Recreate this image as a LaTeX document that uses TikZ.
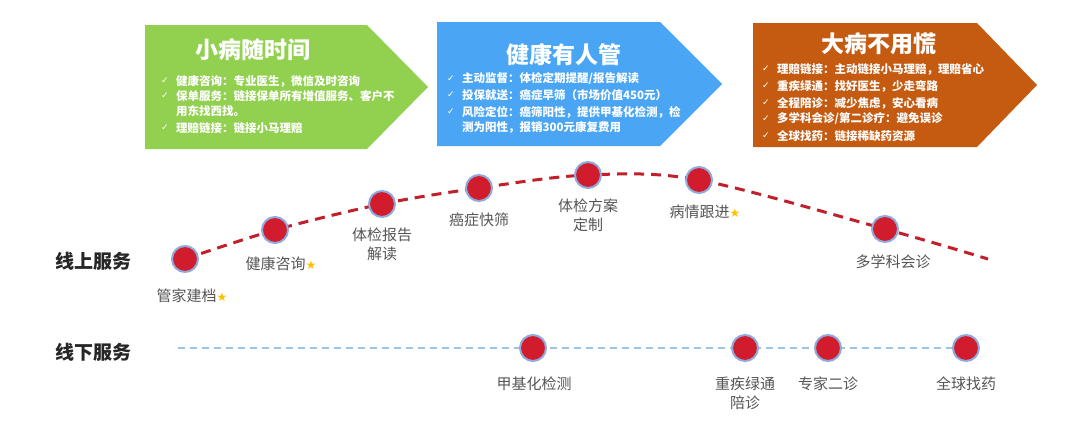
\documentclass[tikz,border=0pt]{standalone}
\usepackage{fontspec}
\newfontfamily\cjk{Noto Sans CJK SC}
\newfontfamily\sym{DejaVu Sans}
\usetikzlibrary{backgrounds}
\definecolor{grn}{HTML}{92D050}
\definecolor{blu}{HTML}{4AA6F4}
\definecolor{org}{HTML}{C55A11}
\definecolor{dotred}{HTML}{D01C2C}
\definecolor{dotedge}{HTML}{8FAADC}
\definecolor{curvered}{HTML}{C0202B}
\definecolor{lineblue}{HTML}{9DC3E6}
\definecolor{labgray}{HTML}{555555}
\definecolor{stargold}{HTML}{FFC000}
\newcommand{\gstar}{{\sym\fontsize{12}{12}\selectfont\textcolor{stargold}{★}}}
\begin{document}
\begin{tikzpicture}[x=1pt,y=-1pt,
  boxtitle/.style={text=white,inner sep=0pt,font=\cjk\bfseries\fontsize{23}{24}\selectfont},
  bline/.style={anchor=west,text=white,inner sep=0pt,font=\cjk\bfseries\fontsize{11.5}{12}\selectfont},
  chk/.style={text=white,inner sep=0pt,font=\sym\fontsize{9}{9}\selectfont},
  dot/.style={circle,minimum size=26pt,inner sep=0pt,fill=dotred,draw=dotedge,line width=2pt},
  lbl/.style={text=labgray,inner sep=0pt,align=center,font=\cjk\fontsize{15}{19}\selectfont},
  rowhead/.style={text=black!85,inner sep=0pt,font=\cjk\bfseries\fontsize{19}{20}\selectfont},
  upcurve/.style={draw=curvered,line width=3pt,dash pattern=on 10pt off 7pt},
  downline/.style={draw=lineblue,line width=2.5pt,dash pattern=on 7pt off 5pt}]
\useasboundingbox (0,0) rectangle (1080,439);
% arrow boxes
\fill[grn] (145,25) -- (367,25) -- (428,87) -- (367,149) -- (145,149) -- cycle;
\fill[blu] (437,22) -- (660,22) -- (722,84) -- (660,146) -- (437,146) -- cycle;
\fill[org] (753,23) -- (977,23) -- (1037,85) -- (977,147) -- (753,147) -- cycle;
% green box text
\node[boxtitle] (gt) at (253,50) {小病随时间};
\node[chk] (gc1) at (165,81) {✓};
\node[bline] (g1) at (176,81) {健康咨询：专业医生，微信及时咨询};
\node[chk] (gc2) at (165,96) {✓};
\node[bline] (g2) at (176,96) {保单服务：链接保单所有增值服务、客户不};
\node[bline] (g2b) at (176,111) {用东找西找。};
\node[chk] (gc3) at (165,128) {✓};
\node[bline] (g3) at (176,128) {理赔链接：链接小马理赔};
% blue box text
\node[boxtitle] (bt) at (564,55) {健康有人管};
\node[chk] (bc1) at (451,79) {✓};
\node[bline] (b1) at (462,79) {主动监督：体检定期提醒/报告解读};
\node[chk] (bc2) at (451,95) {✓};
\node[bline] (b2) at (462,95) {投保就送：癌症早筛（市场价值450元）};
\node[chk] (bc3) at (451,112) {✓};
\node[bline] (b3) at (462,112) {风险定位：癌筛阳性，提供甲基化检测，检};
\node[bline] (b3b) at (462,127) {测为阳性，报销300元康复费用};
% orange box text
\node[boxtitle] (ot) at (879,44) {大病不用慌};
\node[chk] (oc1) at (766,69) {✓};
\node[bline] (o1) at (777,69) {理赔链接：主动链接小马理赔，理赔省心};
\node[chk] (oc2) at (766,86) {✓};
\node[bline] (o2) at (777,86) {重疾绿通：找好医生，少走弯路};
\node[chk] (oc3) at (766,103) {✓};
\node[bline] (o3) at (777,103) {全程陪诊：减少焦虑，安心看病};
\node[chk] (oc4) at (766,119) {✓};
\node[bline] (o4) at (777,119) {多学科会诊/第二诊疗：避免误诊};
\node[chk] (oc5) at (766,136) {✓};
\node[bline] (o5) at (777,136) {全球找药：链接稀缺药资源};
% row headings
\node[rowhead] (on) at (94,261) {线上服务};
\node[rowhead] (off) at (94,352) {线下服务};
% upper dots
\node[dot] (u1) at (185,259) {};
\node[dot] (u2) at (275,230) {};
\node[dot] (u3) at (382,204) {};
\node[dot] (u4) at (479,188) {};
\node[dot] (u5) at (588,175) {};
\node[dot] (u6) at (699,180) {};
\node[dot] (u7) at (885,229) {};
\coordinate (uend) at (988,259);
% lower dots
\coordinate (lstart) at (178,348);
\node[dot] (l1) at (533,348) {};
\node[dot] (l2) at (745,348) {};
\node[dot] (l3) at (828,348) {};
\node[dot] (l4) at (966,348) {};
\begin{scope}[on background layer]
\fill[white] (0,0) rectangle (1080,439);
\draw[upcurve] plot[smooth,tension=0.55] coordinates {(u1.center) (u2.center) (u3.center) (u4.center) (u5.center) (u6.center) (u7.center) (uend)};
\draw[downline] (lstart) -- (l1.center) -- (l2.center) -- (l3.center) -- (l4.center);
\end{scope}
% upper labels
\node[lbl] (ul1) at (192,296) {管家建档\gstar};
\node[lbl] (ul2) at (281,264) {健康咨询\gstar};
\node[lbl] (ul3) at (382,244) {体检报告\\解读};
\node[lbl] (ul4) at (479,220) {癌症快筛};
\node[lbl] (ul5) at (588,215) {体检方案\\定制};
\node[lbl] (ul6) at (705,212) {病情跟进\gstar};
\node[lbl] (ul7) at (893,262) {多学科会诊};
% lower labels
\node[lbl] (ll1) at (534,384) {甲基化检测};
\node[lbl] (ll2) at (745,393) {重疾绿通\\陪诊};
\node[lbl] (ll3) at (828,384) {专家二诊};
\node[lbl] (ll4) at (966,384) {全球找药};
\end{tikzpicture}
\end{document}
